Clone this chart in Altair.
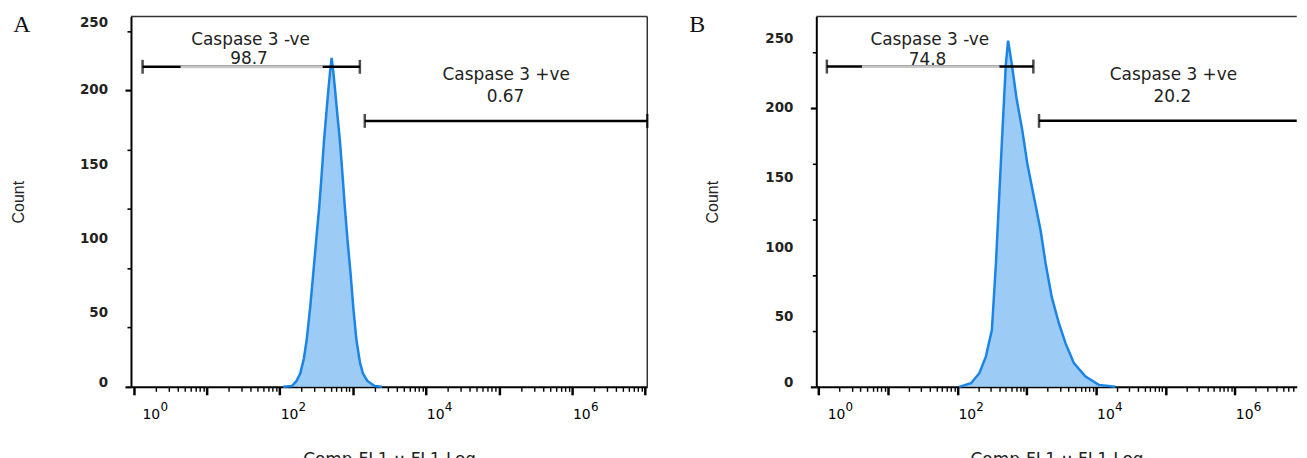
import altair as alt
import pandas as pd

# ---------------- data ----------------
# Panel A histogram (fluorescence intensity, count)
a_fl = [112, 147, 170, 191, 214, 234, 263, 288, 316, 347, 376, 404, 437, 462, 490, 514,
        543, 575, 617, 667, 724, 780, 851, 933, 1023, 1122, 1259, 1380, 1585, 1995, 2512]
a_count = [0, 0.5, 4, 9, 19, 31.6, 55, 76.6, 99, 121, 144, 166, 186, 199.6, 213, 222,
           212, 199.6, 183, 166, 143, 121, 98, 76.6, 52, 31.6, 16, 9, 4, 0.5, 0]

# Panel B histogram
b_fl = [106, 157, 207, 257, 314, 359, 400, 446, 499, 538, 610, 710, 865, 1021, 1274,
        1585, 1875, 2291, 2911, 3631, 4786, 7047, 10965, 19055]
b_count = [0, 2.6, 9.8, 21.7, 40.8, 88.4, 136, 183.8, 231.5, 248.6, 231.5, 207.6, 183.8,
           160, 136, 112.3, 88.4, 64.6, 45.5, 31.2, 17, 7.4, 1.4, 0]

# axes
x_min = 0.9226
a_x_max = 10715000
b_x_max = 7834000          # panel B runs off the right edge of the figure
decades = [1, 10, 100, 1000, 10000, 100000, 1000000, 10000000]
x_label_values = [1, 100, 10000, 1000000]
x_label_exps = ["0", "2", "4", "6"]
a_y_ticks = list(range(0, 251, 10))
b_y_ticks = list(range(0, 261, 10))
y_label_values = [0, 50, 100, 150, 200, 250]

# gates: start, end, grey part (behind the label), level, right cap shown?
a_gates = {"start": [1.33, 1460], "end": [1250, a_x_max],
           "gstart": [4.4, None], "gend": [388, None], "level": [216, 179.5],
           "rcap": [True, True]}
b_gates = {"start": [1.31, 1503], "end": [1245, b_x_max],
           "gstart": [4.2, None], "gend": [404, None], "level": [230, 191],
           "rcap": [True, False]}

# gate labels
a_text = {"t": ["Caspase 3 -ve", "98.7", "Caspase 3 +ve", "0.67"],
          "x": [40, 38, 125900, 123000], "y": [231, 218, 207.3, 192.2]}
b_text = {"t": ["Caspase 3 -ve", "74.8", "Caspase 3 +ve", "20.2"],
          "x": [40, 37, 130600, 126000], "y": [245.3, 231.3, 220.6, 204.5]}

FILL = "#9ccbf5"
LINE = "#1a85e6"
SANS = "DejaVu Sans"
H = 372
MAJOR = "indexof([1,10,100,1000,10000,100000,1000000,10000000], datum.value) >= 0"


def panel(letter, fl, cnt, ymax, yticks, gates, texts, width, x_max,
          letter_x, count_x, right_border):
    x_ticks = sorted([v for v in decades + [m * d for d in decades[:-1] for m in range(2, 10)]
                      if v <= x_max])
    xs = alt.Scale(type="log", domain=[x_min, x_max], nice=False)
    ys = alt.Scale(domain=[0, ymax], nice=False, zero=True)
    xaxis = alt.Axis(
        values=x_ticks, labels=False, grid=False,
        domainColor="black", domainWidth=2, tickColor="black",
        tickSize={"condition": {"test": MAJOR, "value": 8}, "value": 4.5},
        tickWidth={"condition": {"test": MAJOR, "value": 2.5}, "value": 1.4},
        title="Comp-FL1 :: FL1 Log", titleFont=SANS, titleFontSize=17,
        titleFontWeight="normal", titleColor="#222", titleY=78,
        titleBaseline="alphabetic")
    yaxis = alt.Axis(
        values=yticks, grid=False, labels=False,
        domainColor="black", domainWidth=2, tickColor="black",
        tickSize={"condition": {"test": "datum.value % 50 === 0", "value": 6}, "value": 4},
        tickWidth={"condition": {"test": "datum.value % 50 === 0", "value": 2.2}, "value": 1.6},
        title="Count", titleFont="Liberation Sans", titleFontSize=16,
        titleFontWeight="normal", titleColor="#222", titleX=count_x,
        titleBaseline="middle")

    curve = pd.DataFrame({"fl": fl, "count": cnt})
    area = alt.Chart(curve).mark_area(color=FILL, opacity=1).encode(
        x=alt.X("fl:Q", scale=xs, axis=xaxis),
        y=alt.Y("count:Q", scale=ys, axis=yaxis))
    line = alt.Chart(curve).mark_line(color=LINE, strokeWidth=2.5).encode(
        x=alt.X("fl:Q", scale=xs), y=alt.Y("count:Q", scale=ys))

    # frame: top border (and right border where it is inside the figure)
    frame_top = alt.Chart(pd.DataFrame({"k": [0]})).mark_rule(
        color="#333", strokeWidth=1.5).encode(
        x=alt.value(0), x2=alt.value(width), y=alt.value(0))
    layers_frame = [frame_top]
    if right_border:
        layers_frame.append(alt.Chart(pd.DataFrame({"k": [0]})).mark_rule(
            color="#333", strokeWidth=1.5).encode(
            x=alt.value(width), y=alt.value(0), y2=alt.value(H)))

    g = pd.DataFrame(gates)
    gate_line = alt.Chart(g).mark_rule(color="black", strokeWidth=2.5).encode(
        x=alt.X("start:Q", scale=xs), x2="end:Q",
        y=alt.Y("level:Q", scale=ys))
    gate_grey = alt.Chart(g).transform_filter("datum.gstart != null").mark_rule(
        color="#c8c8c8", strokeWidth=2.7).encode(
        x=alt.X("gstart:Q", scale=xs), x2="gend:Q",
        y=alt.Y("level:Q", scale=ys))
    cap_l = alt.Chart(g).mark_tick(color="black", thickness=2.5, size=14,
                                   orient="vertical").encode(
        x=alt.X("start:Q", scale=xs), y=alt.Y("level:Q", scale=ys))
    cap_r = alt.Chart(g).transform_filter("datum.rcap").mark_tick(
        color="black", thickness=2.5, size=14, orient="vertical").encode(
        x=alt.X("end:Q", scale=xs), y=alt.Y("level:Q", scale=ys))

    t = pd.DataFrame(texts)
    labels = alt.Chart(t).mark_text(font=SANS, fontSize=17, color="#222",
                                    align="center", baseline="alphabetic").encode(
        x=alt.X("x:Q", scale=xs), y=alt.Y("y:Q", scale=ys), text="t:N")

    # x tick labels 10^n
    xl = pd.DataFrame({"v": x_label_values, "e": x_label_exps,
                       "b": ["10"] * len(x_label_values)})
    tick_labels = []
    for flt, dx in (("datum.v == 1", 9), ("datum.v > 1", 1)):
        base = alt.Chart(xl).transform_filter(flt)
        tick_labels.append(base.mark_text(font=SANS, fontSize=14, color="#000",
                                          align="left", baseline="alphabetic", dx=dx).encode(
            x=alt.X("v:Q", scale=xs), y=alt.value(H + 32), text="b:N"))
        tick_labels.append(base.mark_text(font=SANS, fontSize=12, color="#000",
                                          align="left", baseline="alphabetic", dx=dx + 18).encode(
            x=alt.X("v:Q", scale=xs), y=alt.value(H + 24), text="e:N"))

    # y tick labels (every 50); the end labels are nudged inside the frame
    yl = pd.DataFrame({"v": [v for v in y_label_values if v <= ymax]})
    top_shift = 250 if ymax == 250 else -1
    for flt, dy in (("datum.v == 0", -4), (f"datum.v == {top_shift}", 7),
                    (f"datum.v > 0 && datum.v != {top_shift}", 0)):
        tick_labels.append(alt.Chart(yl).transform_filter(flt).mark_text(
            font=SANS, fontSize=13.5, fontWeight="bold", color="#222",
            align="right", baseline="middle", dy=dy).encode(
            x=alt.value(-23), y=alt.Y("v:Q", scale=ys), text="v:Q"))

    let = alt.Chart(pd.DataFrame({"t": [letter]})).mark_text(
        font="Liberation Serif", fontSize=24, color="#111", align="left",
        baseline="alphabetic").encode(x=alt.value(letter_x), y=alt.value(15.7), text="t:N")

    return alt.layer(area, line, *layers_frame, gate_line, gate_grey, cap_l, cap_r,
                     labels, *tick_labels, let).properties(width=width, height=H)


pa = panel("A", a_fl, a_count, 250, a_y_ticks, a_gates, a_text, 518.5, a_x_max,
           -118.3, -113, True)
pb = panel("B", b_fl, b_count, 266, b_y_ticks, b_gates, b_text, 482.5, b_x_max,
           -127.5, -104.5, False)

chart = alt.hconcat(pa, pb, spacing=39.25).properties(
    padding={"left": 1.5, "top": 3.5, "right": 0, "bottom": -8.4}
).configure_view(stroke="transparent")

chart.save("out.html", embed_options={"renderer": "svg", "actions": False})
